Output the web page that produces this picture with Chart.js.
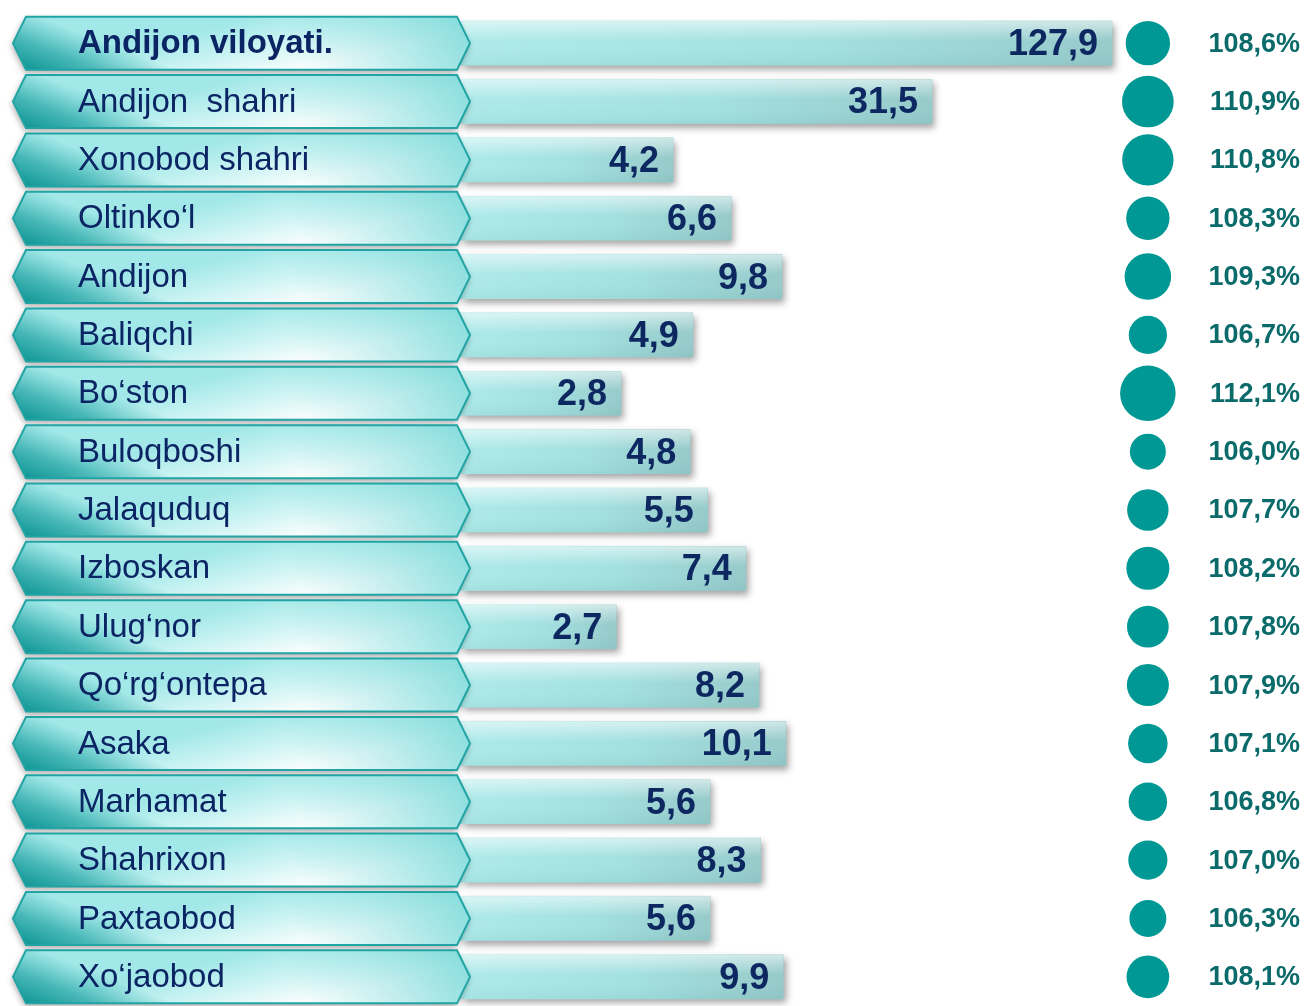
<!DOCTYPE html>
<html>
<head>
<meta charset="utf-8">
<script src="https://cdn.jsdelivr.net/npm/chart.js@4.4.0/dist/chart.umd.min.js"></script>
<style>
  html, body { margin: 0; padding: 0; background: #fff; }
  #wrap { width: 1304px; height: 1006px; }
</style>
</head>
<body>
<div id="wrap"><canvas id="myChart"></canvas></div>
<script>
const districts = [
  'Andijon viloyati.', 'Andijon  shahri', 'Xonobod shahri', 'Oltinko‘l', 'Andijon',
  'Baliqchi', 'Bo‘ston', 'Buloqboshi', 'Jalaquduq', 'Izboskan', 'Ulug‘nor',
  'Qo‘rg‘ontepa', 'Asaka', 'Marhamat', 'Shahrixon', 'Paxtaobod', 'Xo‘jaobod'
];
const volumes = [127.9, 31.5, 4.2, 6.6, 9.8, 4.9, 2.8, 4.8, 5.5, 7.4, 2.7, 8.2, 10.1, 5.6, 8.3, 5.6, 9.9];
const growth = [108.6, 110.9, 110.8, 108.3, 109.3, 106.7, 112.1, 106.0, 107.7, 108.2, 107.8, 107.9, 107.1, 106.8, 107.0, 106.3, 108.1];

const fmt = v => v.toFixed(1).replace('.', ',');

// bar fill: light cyan fading to greyish teal at the bar end
function barFill(c) {
  const chart = c.chart;
  if (!chart.chartArea || c.dataIndex === undefined) return '#a6e3e3';
  const left = chart.chartArea.left;
  const end = chart.scales.x.getPixelForValue(volumes[c.dataIndex]);
  const g = chart.ctx.createLinearGradient(left, 0, end, 0);
  g.addColorStop(0, '#aeeaea');
  g.addColorStop(0.55, '#a3e0e0');
  g.addColorStop(1, '#97caca');
  return g;
}

const barShadow = {
  id: 'barShadow',
  beforeDatasetDraw(chart, args) {
    if (args.index !== 0) return;
    const c = chart.ctx;
    c.save();
    c.shadowColor = 'rgba(50,50,50,0.45)';
    c.shadowBlur = 7;
    c.shadowOffsetX = 3;
    c.shadowOffsetY = 4;
  },
  afterDatasetDraw(chart, args) {
    if (args.index !== 0) return;
    const c = chart.ctx;
    c.restore();
    // white sheen on the top of every bar
    chart.getDatasetMeta(0).data.forEach(bar => {
      const top = bar.y - bar.height / 2;
      const g = c.createLinearGradient(0, top, 0, top + bar.height);
      g.addColorStop(0, 'rgba(255,255,255,0.55)');
      g.addColorStop(0.45, 'rgba(255,255,255,0)');
      g.addColorStop(1, 'rgba(0,90,90,0.06)');
      c.fillStyle = g;
      c.fillRect(bar.base, top, bar.x - bar.base, bar.height);
    });
  }
};

function arrowPath(c, x0, x1, y, h) {
  const s = 13;
  c.beginPath();
  c.moveTo(x0, y);
  c.lineTo(x0 + s, y - h / 2);
  c.lineTo(x1 - s, y - h / 2);
  c.lineTo(x1, y);
  c.lineTo(x1 - s, y + h / 2);
  c.lineTo(x0 + s, y + h / 2);
  c.closePath();
}

const labelBoxes = {
  id: 'labelBoxes',
  afterDatasetsDraw(chart) {
    const c = chart.ctx;
    const ys = chart.scales.y;
    const x0 = 13, x1 = 470, h = 53;

    districts.forEach((name, i) => {
      const y = ys.getPixelForValue(i);
      const top = y - h / 2, bot = y + h / 2;

      c.save();
      arrowPath(c, x0, x1, y, h);
      c.shadowColor = 'rgba(0,0,0,0.35)';
      c.shadowBlur = 6;
      c.shadowOffsetX = -1;
      c.shadowOffsetY = 3;
      const base = c.createLinearGradient(300, top - 10, 320, bot + 20);
      base.addColorStop(0, '#a3e8e8');
      base.addColorStop(0.35, '#cbf3f3');
      base.addColorStop(0.7, '#f8fdfd');
      base.addColorStop(1, '#ffffff');
      c.fillStyle = base;
      c.fill();
      c.restore();

      c.save();
      arrowPath(c, x0, x1, y, h);
      c.clip();
      // dark teal in the lower left corner
      const dark = c.createLinearGradient(30, bot + 5, 72, top - 50);
      dark.addColorStop(0, 'rgba(0,140,140,0.95)');
      dark.addColorStop(0.25, 'rgba(10,150,150,0.6)');
      dark.addColorStop(0.5, 'rgba(20,160,160,0)');
      c.fillStyle = dark;
      c.fillRect(x0, top, x1 - x0, h);
      // cyan glow in the upper right
      const light = c.createLinearGradient(x1, top, x1 - 150, bot + 30);
      light.addColorStop(0, 'rgba(105,212,212,0.8)');
      light.addColorStop(1, 'rgba(105,212,212,0)');
      c.fillStyle = light;
      c.fillRect(x0, top, x1 - x0, h);
      c.restore();

      c.save();
      arrowPath(c, x0, x1, y, h);
      c.strokeStyle = '#22a4a4';
      c.lineWidth = 2;
      c.stroke();
      c.restore();

      c.save();
      c.fillStyle = '#0b2463';
      c.font = (i === 0 ? 'bold ' : '') + '33px "Liberation Sans", Arial, sans-serif';
      c.textAlign = 'left';
      c.textBaseline = 'middle';
      c.fillText(name, 78, y + 1);
      c.restore();
    });

    // values at the bar ends
    c.save();
    c.fillStyle = '#0d2860';
    c.font = 'bold 36px "Liberation Sans", Arial, sans-serif';
    c.textAlign = 'right';
    c.textBaseline = 'middle';
    chart.getDatasetMeta(0).data.forEach((bar, i) => {
      c.fillText(fmt(volumes[i]), bar.x - 14, bar.y + 2);
    });
    c.restore();

    // growth percentages next to the circles
    c.save();
    c.fillStyle = '#0b6a6a';
    c.font = 'bold 27px "Liberation Sans", Arial, sans-serif';
    c.textAlign = 'right';
    c.textBaseline = 'middle';
    chart.getDatasetMeta(1).data.forEach((pt, i) => {
      c.fillText(fmt(growth[i]) + '%', 1300, pt.y + 1);
    });
    c.restore();
  }
};

const ctx = document.getElementById('myChart').getContext('2d');

new Chart(ctx, {
  type: 'bar',
  data: {
    labels: districts,
    datasets: [
      {
        type: 'bar',
        data: volumes,
        xAxisID: 'x',
        yAxisID: 'y',
        barThickness: 44,
        backgroundColor: barFill,
        borderWidth: 0
      },
      {
        type: 'bubble',
        data: growth.map((g, i) => ({ x: 0.815, y: districts[i], r: 18 + (g - 106) * 1.6 })),
        xAxisID: 'xb',
        yAxisID: 'y',
        backgroundColor: '#009894',
        borderWidth: 0
      }
    ]
  },
  options: {
    indexAxis: 'y',
    responsive: true,
    maintainAspectRatio: false,
    animation: false,
    layout: { autoPadding: false, padding: { left: 460, top: 14, right: 0, bottom: 0 } },
    scales: {
      x: { type: 'logarithmic', min: 0.8, max: 570, display: false },
      xb: { type: 'linear', axis: 'x', min: 0, max: 1, display: false },
      y: { type: 'category', display: false, offset: true }
    },
    plugins: {
      legend: { display: false },
      tooltip: { enabled: false }
    }
  },
  plugins: [barShadow, labelBoxes]
});
</script>
</body>
</html>
